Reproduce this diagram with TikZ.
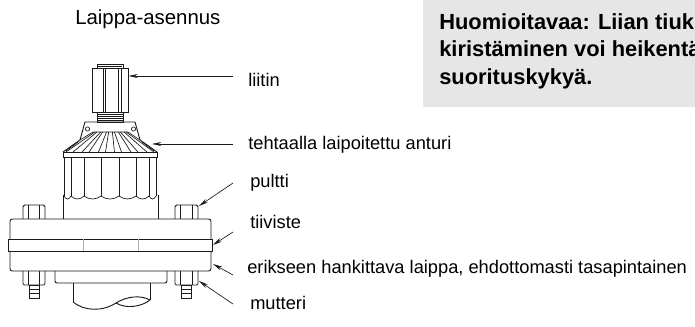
\documentclass[tikz,border=0pt]{standalone}
\usepackage{fontspec}
\setmainfont{Liberation Sans}
\usetikzlibrary{arrows.meta}
\definecolor{notegray}{HTML}{E6E6E6}
\definecolor{ink}{HTML}{1A1A1A}
\begin{document}
\begin{tikzpicture}[x=0.75pt,y=-0.75pt,
  part/.style={draw=ink,line width=0.7pt},
  fine/.style={draw=ink,line width=0.5pt},
  lbl/.style={anchor=base west,inner sep=0pt,font=\fontsize{13.7}{16}\selectfont},
  notetext/.style={anchor=base west,inner sep=0pt,font=\fontsize{16.4}{19}\selectfont\bfseries},
  callout/.style={draw=ink,line width=0.5pt,-{Stealth[length=7pt,width=3pt]}},
]
\useasboundingbox (0,0) rectangle (695,327);
\clip (0,0) rectangle (695,327);

% note box
\fill[notegray] (423,-2) rectangle (697,107);
\node[notetext] (note1) at (439,29.5) {Huomioitavaa: Liian tiukka};
\node[notetext] (note2) at (439,57) {kiristäminen voi heikentää};
\node[notetext] (note3) at (439,84.5) {suorituskykyä.};

% title
\node[anchor=base west,inner sep=0pt,font=\fontsize{15.3}{18}\selectfont] (title) at (75,25) {Laippa-asennus};

% ---- connector (liitin) ----
\draw[part] (97,64) rectangle (123,68);
\draw[fine] (98,66) -- (122,66);
\draw[part] (92,68) rectangle (128,112);
\foreach \xx in {103,105,118,121} \draw[fine] (\xx,68) -- (\xx,112);
\draw[part] (97,112) rectangle (123,122);
\foreach \yy in {114,116,118,120} \draw[fine] (97,\yy) -- (123,\yy);

% ---- mounting ears and cone ----
\draw[part] (80,140) -- (85,122) -- (135,122) -- (140,140);
\draw[fine] (80,140) -- (93,132) -- (128,132) -- (140,140);
\draw[fine] (87.5,129) circle (2.1);
\draw[fine] (133.5,129) circle (2.1);
\draw[part] (80,140) -- (63,152);
\draw[part] (140,140) -- (157,152);
% cooling fins on the cone
\foreach \t in {-0.86,-0.52,-0.17,0.17,0.52,0.86} {
  \draw[fine] ({110.5+(\t-0.06)*17},132) -- ({110+(\t-0.075)*47},152);
  \draw[fine] ({110.5+(\t+0.06)*17},132) -- ({110+(\t+0.075)*47},152);
}
\draw[fine] (78,142) -- (66,151);
\draw[fine] (142,142) -- (154,151);
% rim band
\draw[part] (63,152) rectangle (157,157);

% ---- fluted housing ----
\foreach \xx in {64,71,84,101,119,136,149,156} \draw[fine] (\xx,157) -- (\xx,196);
\foreach \xa/\xb in {64/71,71/84,84/101,101/119,119/136,136/149,149/156}
  \draw[fine] (\xa,196) .. controls ({\xa+(\xb-\xa)*0.3},200) and ({\xb-(\xb-\xa)*0.3},200) .. (\xb,196);
\draw[part] (63,195) -- (63,219);
\draw[part] (158,195) -- (158,219);

% ---- bolts above the flange ----
\foreach \xl/\xr in {23/45,175/198} {
  \draw[part,rounded corners=1.2pt] (\xl,219) -- (\xl,205) -- (\xr,205) -- (\xr,219);
  \draw[fine] ({\xl+5.5},205) -- ({\xl+5.5},219);
  \draw[fine] ({\xr-6},205) -- ({\xr-6},219);
}

% ---- flange pair and gasket ----
\draw[part,rounded corners=1.8pt] (10,239) -- (10,219) -- (211,219) -- (211,239);
\draw[part] (8,239) rectangle (212,251);
\draw[draw=ink!35,line width=0.3pt] (83,239) -- (83,251) (138,239) -- (138,251);
\draw[part,rounded corners=1.8pt] (10,251) -- (10,271) -- (211,271) -- (211,251);

% ---- nuts and bolt ends below ----
\foreach \xl/\xr in {23/45,175/198} {
  \draw[part,rounded corners=1pt] (\xl,271) -- (\xl,285) -- (\xr,285) -- (\xr,271);
  \draw[fine] ({\xl+5.5},271) -- ({\xl+5.5},285);
  \draw[fine] ({\xr-6},271) -- ({\xr-6},285);
  \draw[part] ({(\xl+\xr)/2-5},285) rectangle ({(\xl+\xr)/2+5},298);
  \draw[fine] ({(\xl+\xr)/2-5},289.5) -- ({(\xl+\xr)/2+5},289.5);
  \draw[fine] ({(\xl+\xr)/2-5},293.5) -- ({(\xl+\xr)/2+5},293.5);
}

% ---- flange hub and pipe stub with break line ----
\draw[part,rounded corners=1.5pt] (55,271) -- (55,283) -- (167,283) -- (167,271);
\draw[part] (73,283) -- (73,302);
\draw[part] (150,283) -- (150,300);
\draw[part] (73,302) .. controls (84,311) and (102,312) .. (116,303)
               .. controls (127,296) and (141,295) .. (150,300);
\draw[part] (116,303) .. controls (126,309) and (141,307) .. (150,300);

% ---- labels and leaders ----
\node[lbl] (lliitin) at (248,87) {liitin};
\node[lbl] (lanturi) at (248,150) {tehtaalla laipoitettu anturi};
\node[lbl] (lpultti) at (250,188) {pultti};
\node[lbl] (ltiiviste) at (250,229) {tiiviste};
\node[lbl] (llaippa) at (247,274) {erikseen hankittava laippa, ehdottomasti tasapintainen};
\node[lbl] (lmutteri) at (250,310) {mutteri};

\coordinate (aLiitin) at (233,76);    \coordinate (tLiitin) at (128.5,76);
\coordinate (aAnturi) at (233,144);   \coordinate (tAnturi) at (152,144);
\coordinate (aPultti) at (233,183);   \coordinate (tPultti) at (199,206);
\coordinate (aTiiv) at (233,232);     \coordinate (tTiiv) at (213,245);
\coordinate (aLaippa) at (233,275);   \coordinate (tLaippa) at (213,264);
\coordinate (aMutt) at (233,304);     \coordinate (tMutt) at (199,281);

\draw[callout] (aLiitin) -- (tLiitin);
\draw[callout] (aAnturi) -- (tAnturi);
\draw[callout] (aPultti) -- (tPultti);
\draw[callout] (aTiiv) -- (tTiiv);
\draw[callout] (aLaippa) -- (tLaippa);
\draw[callout] (aMutt) -- (tMutt);
\end{tikzpicture}
\end{document}
